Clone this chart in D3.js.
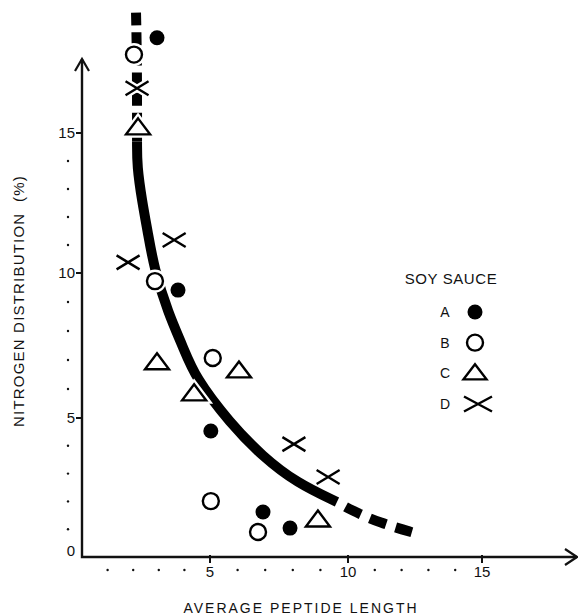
<!DOCTYPE html>
<html>
<head>
<meta charset="utf-8">
<script src="https://cdn.jsdelivr.net/npm/d3@7"></script>
<style>
  html, body { margin: 0; padding: 0; background: #fff; }
  svg text { font-family: "Liberation Sans", Arial, sans-serif; fill: #111; }
</style>
</head>
<body>
<div id="chart"></div>
<script>
// soy sauce samples: [average peptide length, nitrogen distribution %]
const soyA = [[2.93, 18.4], [3.75, 9.41], [5.03, 4.53], [6.92, 1.62], [7.9, 1.04]];
const soyB = [[2.03, 17.8], [2.85, 9.72], [5.1, 7.07], [5.03, 2.01], [6.74, 0.9]];
const soyC = [[2.19, 15.18], [2.93, 6.9], [4.38, 5.83], [6.05, 6.62], [8.91, 1.33]];
const soyD = [[2.15, 16.6], [1.8, 10.38], [3.6, 11.18], [8.04, 4.06], [9.28, 2.88]];

// hand drawn trend curve
const trendX = [2.11, 2.15, 2.15, 2.15, 2.34, 2.58, 2.81, 3.36, 3.95, 4.41, 5.72, 6.92, 8.15, 9.6, 10.1, 11.2, 12.5];
const trendY = [19.3, 17.6, 14.7, 13.8, 12.6, 11.4, 10.2, 8.62, 7.45, 6.41, 4.82, 3.6, 2.66, 1.98, 1.69, 1.22, 0.86];

const xLabels = [5, 10, 15];
const yLabels = [0, 5, 10, 15];
const xMinor = [1, 2, 3, 4, 6, 7, 8, 9, 11, 12, 13, 14];
const yMinor = [1, 2, 3, 4, 6, 7, 8, 9, 11, 12, 13, 14];
const legendKeys = ['A', 'B', 'C', 'D'];

const largura = 578, altura = 615;
const svg = d3.select('#chart').append('svg')
    .attr('width', largura)
    .attr('height', altura)
    .attr('viewBox', '0 0 ' + largura + ' ' + altura);

// the original axes are hand drawn, so the scales are piecewise
const x = d3.scaleLinear().domain([0, 5, 10, 15]).range([82, 210, 348, 482]);
const y = d3.scaleLinear().domain([0, 5, 10, 15]).range([557, 418, 273, 133]);

const x0 = x(0), y0 = y(0);
const xEnd = 577, yEnd = 59;

// axes
const eixos = svg.append('g').attr('fill', 'none').attr('stroke', '#111');
eixos.append('path')
    .attr('d', `M${x0},${yEnd} L${x0},${y0} L${xEnd},${y0}`)
    .attr('stroke-width', 2.4);
eixos.append('path')
    .attr('d', `M${x0 - 7},${yEnd + 12} L${x0},${yEnd} L${x0 + 7},${yEnd + 12}`)
    .attr('stroke-width', 2.2);
eixos.append('path')
    .attr('d', `M${xEnd - 12},${y0 - 8} L${xEnd},${y0} L${xEnd - 12},${y0 + 8}`)
    .attr('stroke-width', 2.2);

// major ticks
eixos.selectAll('.ytick').data(yLabels.filter(d => d > 0)).enter()
    .append('line')
    .attr('x1', x0 - 6).attr('x2', x0)
    .attr('y1', d => y(d)).attr('y2', d => y(d))
    .attr('stroke-width', 2);
eixos.selectAll('.xtick').data(xLabels).enter()
    .append('line')
    .attr('x1', d => x(d)).attr('x2', d => x(d))
    .attr('y1', y0 - 2).attr('y2', y0 + 6)
    .attr('stroke-width', 2);

// minor dots
svg.append('g').selectAll('circle').data(yMinor).enter()
    .append('circle')
    .attr('cx', x0 - 14).attr('cy', d => y(d)).attr('r', 1.2).attr('fill', '#111');
svg.append('g').selectAll('circle').data(xMinor).enter()
    .append('circle')
    .attr('cx', d => x(d)).attr('cy', y0 + 13).attr('r', 1.2).attr('fill', '#111');

// tick labels
svg.append('g').selectAll('text').data(yLabels).enter()
    .append('text')
    .attr('x', x0 - 7)
    .attr('y', d => d === 0 ? y(d) - 6 : y(d))
    .attr('dy', '0.35em')
    .attr('text-anchor', 'end')
    .attr('font-size', 15)
    .text(d => d);
svg.append('g').selectAll('text').data(xLabels).enter()
    .append('text')
    .attr('x', d => x(d))
    .attr('y', y0 + 15)
    .attr('dy', '0.35em')
    .attr('text-anchor', 'middle')
    .attr('font-size', 15)
    .text(d => d);

// axis titles
svg.append('text')
    .attr('x', 301).attr('y', 608)
    .attr('dy', '0.35em')
    .attr('text-anchor', 'middle')
    .attr('font-size', 14)
    .attr('letter-spacing', 2)
    .text('AVERAGE PEPTIDE LENGTH');
svg.append('text')
    .attr('transform', 'translate(19,301) rotate(-90)')
    .attr('dy', '0.35em')
    .attr('text-anchor', 'middle')
    .attr('font-size', 15)
    .attr('letter-spacing', 1.2)
    .attr('xml:space', 'preserve')
    .text('NITROGEN DISTRIBUTION  (%)');

// trend curve: dashed at both ends, solid in the middle
const trend = trendX.map((v, i) => [v, trendY[i]]);
const linha = d3.line().x(d => x(d[0])).y(d => y(d[1])).curve(d3.curveBasis);
const curvaG = svg.append('g').attr('fill', 'none').attr('stroke', '#000').attr('stroke-width', 10);
curvaG.append('path').attr('d', linha(trend.slice(0, 3))).attr('stroke-dasharray', '13 7');
curvaG.append('path').attr('d', linha(trend.slice(2, 14)));
curvaG.append('path').attr('d', linha(trend.slice(13)))
    .attr('stroke-dasharray', '17 10')
    .attr('stroke-dashoffset', 17);

// marker shapes
const tri = (w, h) => {
    const p = d3.path();
    p.moveTo(0, -h * 0.6);
    p.lineTo(w / 2, h * 0.4);
    p.lineTo(-w / 2, h * 0.4);
    p.closePath();
    return p.toString();
};
const cruz = (w, h) => {
    const p = d3.path();
    p.moveTo(-w / 2, -h / 2); p.lineTo(w / 2, h / 2);
    p.moveTo(-w / 2, h / 2); p.lineTo(w / 2, -h / 2);
    return p.toString();
};

const desenha = (g, tipo, halo) => {
    const sw = halo ? 7 : 2.4;
    const cor = halo ? '#fff' : '#000';
    if (tipo === 'A') {
        g.append('circle').attr('r', 7.5).attr('fill', halo ? '#fff' : '#000')
            .attr('stroke', cor).attr('stroke-width', halo ? 4 : 0);
    } else if (tipo === 'B') {
        g.append('circle').attr('r', 8).attr('fill', '#fff')
            .attr('stroke', cor).attr('stroke-width', sw);
    } else if (tipo === 'C') {
        g.append('path').attr('d', tri(24, 16)).attr('fill', '#fff')
            .attr('stroke', cor).attr('stroke-width', sw).attr('stroke-linejoin', 'miter');
    } else {
        g.append('path').attr('d', cruz(23, 14)).attr('fill', 'none')
            .attr('stroke', cor).attr('stroke-width', sw);
    }
};

const series = [['A', soyA], ['B', soyB], ['C', soyC], ['D', soyD]];
const marcas = svg.append('g');
[true, false].forEach(halo => {
    series.forEach(([tipo, pts]) => {
        pts.forEach(d => {
            const g = marcas.append('g').attr('transform', `translate(${x(d[0])},${y(d[1])})`);
            desenha(g, tipo, halo);
        });
    });
});

// legend
const legenda = svg.append('g');
legenda.append('text')
    .attr('x', 451).attr('y', 279)
    .attr('dy', '0.35em')
    .attr('text-anchor', 'middle')
    .attr('font-size', 15)
    .attr('letter-spacing', 0.6)
    .text('SOY SAUCE');
const legY = d3.scalePoint().domain(legendKeys).range([312, 404]);
legendKeys.forEach(k => {
    legenda.append('text')
        .attr('x', 445).attr('y', legY(k))
        .attr('dy', '0.35em')
        .attr('text-anchor', 'middle')
        .attr('font-size', 14)
        .text(k);
    const g = legenda.append('g').attr('transform', `translate(${k === 'D' ? 478 : 475},${legY(k)})`);
    if (k === 'C') {
        g.append('path').attr('d', tri(23, 15)).attr('fill', '#fff').attr('stroke', '#000').attr('stroke-width', 2.4);
    } else if (k === 'D') {
        g.append('path').attr('d', cruz(28, 15)).attr('fill', 'none').attr('stroke', '#000').attr('stroke-width', 2.4);
    } else {
        desenha(g, k, false);
    }
});
</script>
</body>
</html>
